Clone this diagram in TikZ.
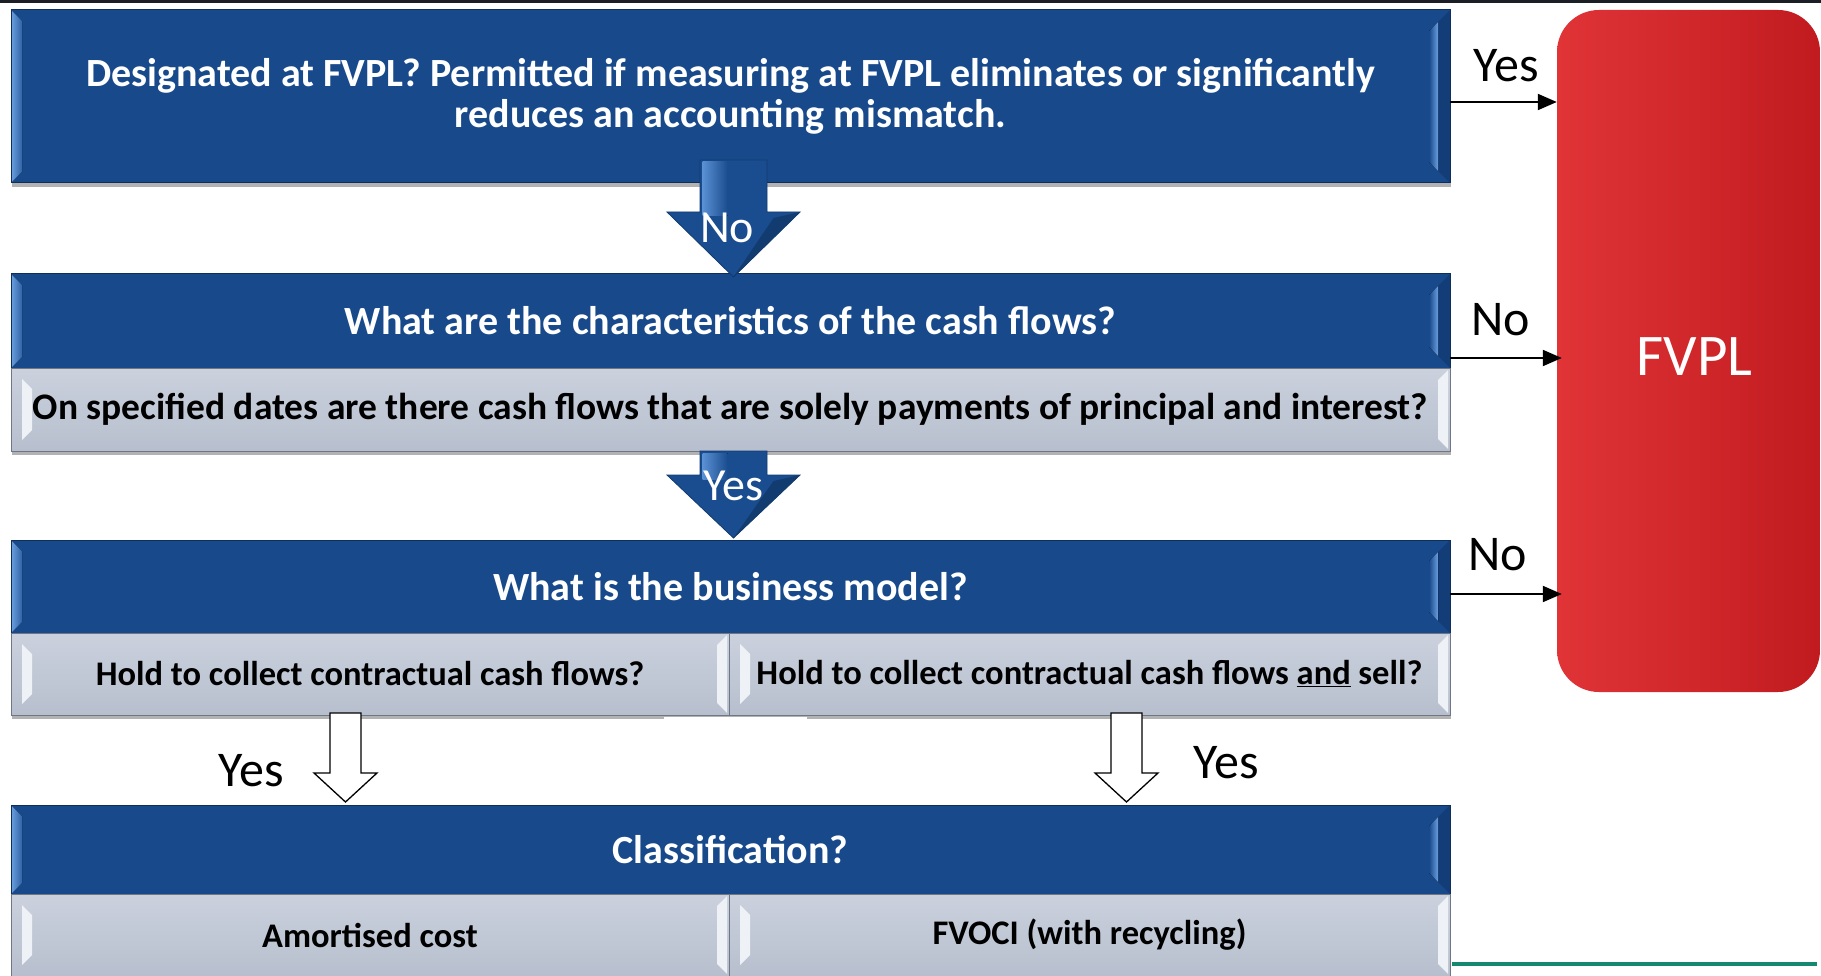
\documentclass[tikz,border=0pt]{standalone}
\usepackage{fontspec}
\setmainfont{Carlito}
\usetikzlibrary{calc,shadows,arrows.meta}
\definecolor{bxblue}{HTML}{184A8B}
\definecolor{bxbluedk}{HTML}{123D77}
\definecolor{bxbluelt}{HTML}{6A9FE0}
\definecolor{bxedgeblue}{HTML}{0E2F5C}
\definecolor{bxgreytop}{HTML}{CBD1DD}
\definecolor{bxgreybot}{HTML}{B7BFCE}
\definecolor{bxgreylt}{HTML}{EEF1F6}
\definecolor{bxedgegrey}{HTML}{6F7684}
\definecolor{fvred}{HTML}{E03437}
\definecolor{fvreddk}{HTML}{C11B1F}
\definecolor{tealline}{HTML}{14896F}
\definecolor{topbar}{HTML}{1B1E25}
\definecolor{barrow}{HTML}{1A4D8F}
\definecolor{barrowdk}{HTML}{123B70}
\definecolor{barrowlt}{HTML}{5A90D4}
\newcommand\mybevL[4]{\fill[#2] ($(#1.north west)+(#3,#3)$) -- ($(#1.north west)+(#3+#4,#3+#4)$) -- ($(#1.south west)+(#3+#4,-#3-#4)$) -- ($(#1.south west)+(#3,-#3)$) -- cycle;}
\newcommand\mybevR[4]{\fill[#2] ($(#1.north east)+(-#3,#3)$) -- ($(#1.north east)+(-#3-#4,#3+#4)$) -- ($(#1.south east)+(-#3-#4,-#3-#4)$) -- ($(#1.south east)+(-#3,-#3)$) -- cycle;}
\newcommand\bluebev[1]{\mybevL{#1}{left color=bxbluelt,right color=bxblue!70!bxbluelt}{0}{11}\mybevR{#1}{bxbluedk}{0}{12}\mybevR{#1}{left color=bxblue,right color=bxbluelt}{12}{9}\draw[bxedgeblue,line width=1pt] (#1.north west) rectangle (#1.south east);}
\newcommand\greybev[1]{\mybevL{#1}{bxgreylt}{11}{10}\mybevR{#1}{bxgreylt}{2}{10}\draw[bxedgegrey,line width=1pt] (#1.north west) rectangle (#1.south east);}
\tikzset{
  pics/bluedown/.style n args={2}{code={
    \fill[barrow] (-33.5,0) -- (33.5,0) -- (33.5,#1) -- (66.5,#1) -- (0,#1+#2) -- (-66.5,#1) -- (-33.5,#1) -- cycle;
    \fill[left color=barrowlt,right color=barrow] (-31,2) -- (-6,2) -- (-6,#1+4) -- (-31,#1+4) -- cycle;
    \fill[barrowdk] (0,#1+#2) -- (66.5,#1) -- (40,#1+6) -- cycle;
    \draw[barrowdk,line width=0.8pt] (-33.5,0) -- (33.5,0) -- (33.5,#1) -- (66.5,#1) -- (0,#1+#2) -- (-66.5,#1) -- (-33.5,#1) -- cycle;
  }},
  pics/hollowdown/.style={code={
    \draw[line width=1.3pt,fill=white] (-15.5,0) -- (15.5,0) -- (15.5,60) -- (31.5,60) -- (0,89) -- (-31.5,60) -- (-15.5,60) -- cycle;
  }}
}
\begin{document}
\begin{tikzpicture}[x=1pt,y=-1pt,
  boxtext/.style={font=\fontsize{40}{41}\selectfont\bfseries, align=center, inner sep=0pt, outer sep=0pt},
  bshadow/.style={drop shadow={shadow xshift=1pt,shadow yshift=-4pt,opacity=0.3,fill=black}},
  bluebox/.style={boxtext, fill=bxblue, text=white, bshadow},
  greybox/.style={boxtext, top color=bxgreytop, bottom color=bxgreybot, text=black, bshadow},
  cellfont/.style={font=\fontsize{34.5}{40}\selectfont\bfseries},
  fvbox/.style={rounded corners=42pt, left color=fvred, right color=fvreddk, inner sep=0pt},
  fvtext/.style={text=white, font=\fontsize{59}{62}\selectfont, inner sep=0pt},
  lbl/.style={font=\fontsize{50}{55}\selectfont, inner sep=0pt, anchor=base},
  albl/.style={font=\fontsize{46}{50}\selectfont, inner sep=0pt, anchor=base, text=white},
  conn/.style={line width=2pt, -{Triangle[length=19pt,width=16pt]}}
]
\useasboundingbox (0,0) rectangle (1821,976);
\fill[topbar] (0,0) rectangle (1821,3.5);

\node[bluebox, minimum width=1439pt, minimum height=173pt] (q1) at (730.5,96.5)
  {Designated at FVPL? Permitted if measuring at FVPL eliminates or significantly\\reduces an accounting mismatch.};
\bluebev{q1}
\node[bluebox, minimum width=1439pt, minimum height=94pt] (q2) at (730.5,321)
  {What are the characteristics of the cash flows?};
\bluebev{q2}
\node[greybox, font=\fontsize{37.5}{40}\selectfont\bfseries, minimum width=1439pt, minimum height=83pt] (q2g) at (730.5,409.5)
  {On specified dates are there cash flows that are solely payments of principal and interest?};
\greybev{q2g}
\node[bluebox, minimum width=1439pt, minimum height=93pt] (q3) at (730.5,586.5)
  {What is the business model?};
\bluebev{q3}
\node[greybox, cellfont, minimum width=718pt, minimum height=82pt] (c3l) at (370,674)
  {Hold to collect contractual cash flows?};
\greybev{c3l}
\node[greybox, cellfont, minimum width=721pt, minimum height=82pt] (c3r) at (1089.5,674)
  {Hold to collect contractual cash flows \underline{and} sell?};
\greybev{c3r}
\fill[white] (664,717) rectangle (807,804);
\node[bluebox, minimum width=1439pt, minimum height=89pt] (q4) at (730.5,849.5)
  {Classification?};
\bluebev{q4}
\node[greybox, cellfont, minimum width=718pt, minimum height=82pt] (c4l) at (370,935)
  {Amortised cost};
\greybev{c4l}
\node[greybox, cellfont, minimum width=721pt, minimum height=82pt] (c4r) at (1089.5,935)
  {FVOCI (with recycling)};
\greybev{c4r}

\node[fvbox, minimum width=263pt, minimum height=682pt] (fv) at (1688.5,351) {};
\node[fvtext] (fvt) at ([xshift=6pt,yshift=-6pt]fv.center) {FVPL};

\pic at ([xshift=3pt,yshift=23pt]q1.south) {bluedown={52}{65}};
\node[albl] (lno) at (727,243) {No};
\pic at ([xshift=3pt]q2g.south) {bluedown={24}{63}};
\node[albl] (lyes) at (733,500) {Yes};

\pic at ([xshift=-24.5pt,yshift=2pt]c3l.south) {hollowdown};
\pic at ([xshift=37pt,yshift=2pt]c3r.south) {hollowdown};
\node[lbl] (ya) at (251,786) {Yes};
\node[lbl] (yb) at (1226,778) {Yes};

\draw[conn] ([yshift=-5.5pt]q1.east) -- ([yshift=-5.5pt]q1.east -| fv.west);
\draw[conn, shorten >=-5pt] ([yshift=-37pt]q2.east) -- ([yshift=-37pt]q2.east -| fv.west);
\draw[conn, shorten >=-5pt] ([yshift=-7.5pt]q3.east) -- ([yshift=-7.5pt]q3.east -| fv.west);
\node[lbl] (l1) at (1506,82) {Yes};
\node[lbl] (l2) at (1501,336) {No};
\node[lbl] (l3) at (1498,570) {No};

\fill[tealline] (1452,962) rectangle (1817,966);
\end{tikzpicture}
\end{document}
